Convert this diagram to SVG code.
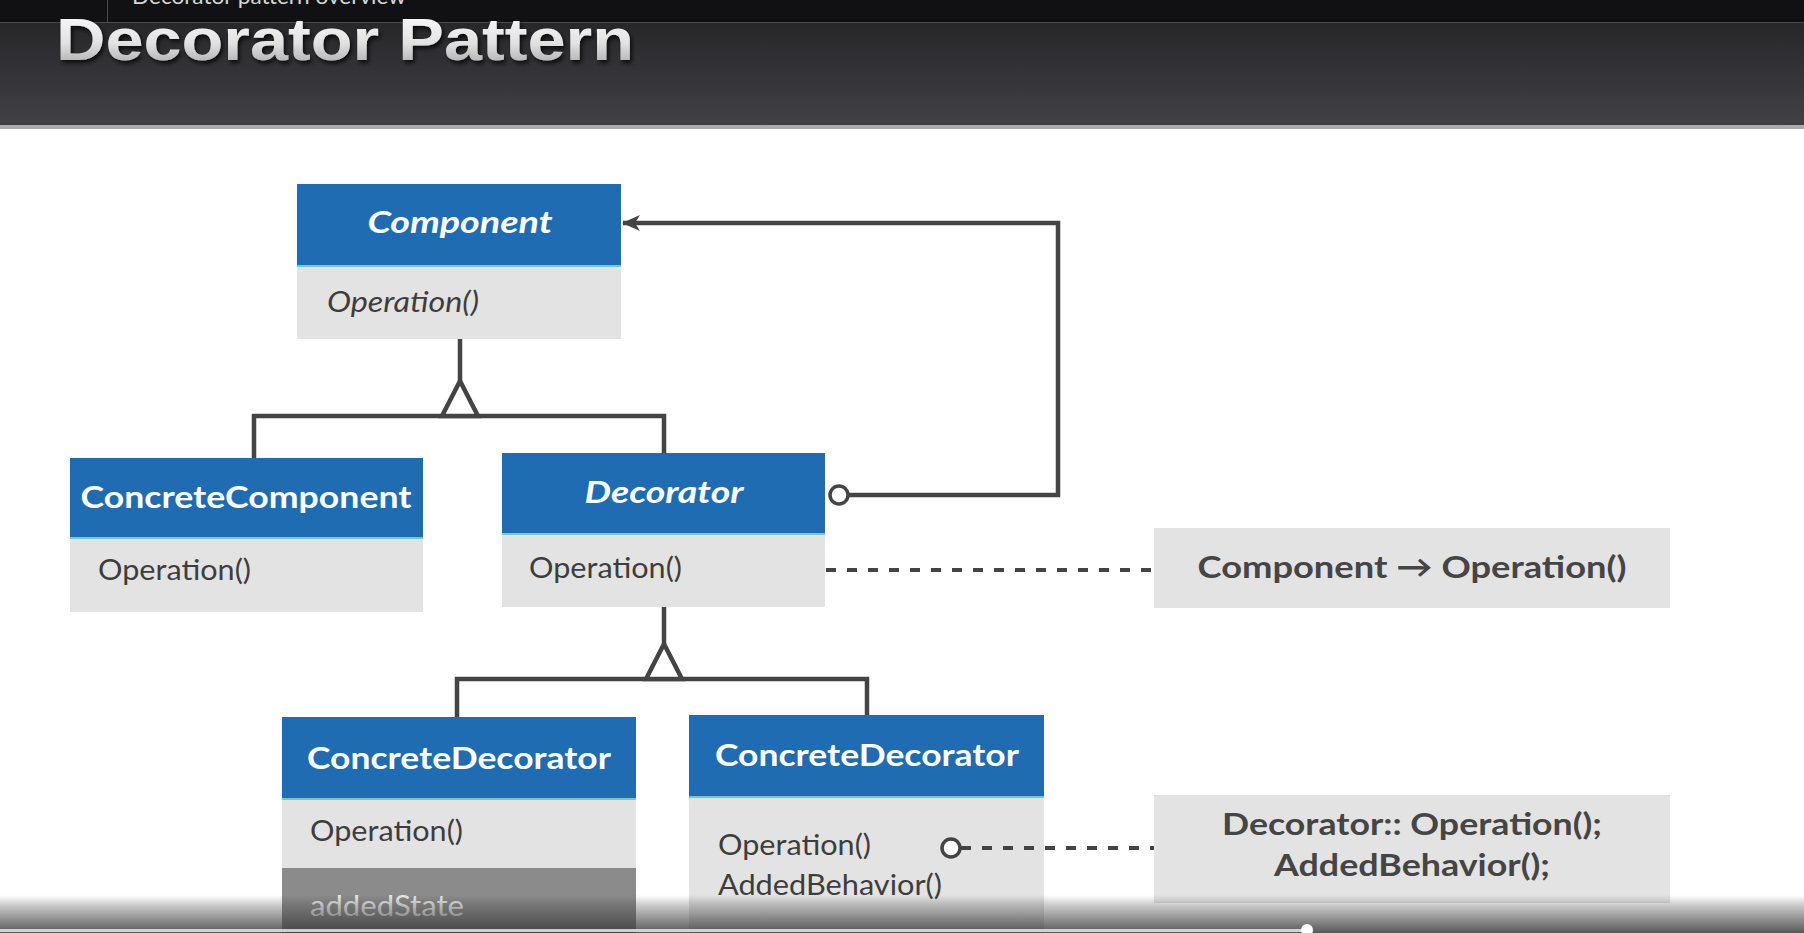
<svg xmlns="http://www.w3.org/2000/svg" width="1804" height="933" viewBox="0 0 1804 933">
<defs>
<linearGradient id="band" x1="0" y1="0" x2="0" y2="1">
<stop offset="0" stop-color="#27272a"/>
<stop offset="1" stop-color="#424146"/>
</linearGradient>
<linearGradient id="titleFill" x1="0" y1="0" x2="0" y2="1">
<stop offset="0" stop-color="#ffffff"/>
<stop offset="0.55" stop-color="#e2e2e2"/>
<stop offset="1" stop-color="#9c9c9c"/>
</linearGradient>
<linearGradient id="bottomFade" x1="0" y1="0" x2="0" y2="1">
<stop offset="0" stop-color="#3a3a3a" stop-opacity="0"/>
<stop offset="0.25" stop-color="#3a3a3a" stop-opacity="0.25"/>
<stop offset="1" stop-color="#3a3a3a" stop-opacity="0.85"/>
</linearGradient>
<filter id="shadow" x="-5%" y="-20%" width="110%" height="150%">
<feDropShadow dx="2" dy="3" stdDeviation="2" flood-color="#000" flood-opacity="0.75"/>
</filter>
<marker id="arrow" viewBox="0 0 18 18" refX="17" refY="9" markerWidth="18" markerHeight="18" markerUnits="userSpaceOnUse" orient="auto">
<path d="M18,9 L0,1 L5,9 L0,17 Z" fill="#444"/>
</marker>
<style>
.hdr{fill:#1f6cb3}
.body{fill:#e3e3e3}
.dark{fill:#8b8b8b}
.sep{stroke:#6fcacb;stroke-width:2}
.ttl{font-family:Lato,'Liberation Sans',sans-serif;font-weight:700;font-size:31px;fill:#ffffff;text-anchor:middle}
.abs{font-style:italic}
.op{font-family:Lato,'Liberation Sans',sans-serif;font-size:29px;fill:#3d3d3d}
.light{fill:#ebebeb}
.ln{fill:none;stroke:#444;stroke-width:4.5}
.inh{fill:#ffffff;stroke:#444;stroke-width:4.5;stroke-linejoin:miter}
.dash{fill:none;stroke:#444;stroke-width:4;stroke-dasharray:10 11}
.ring{fill:#ffffff;stroke:#444;stroke-width:3.5}
.note{fill:#e3e3e3}
.nt{font-family:Lato,'Liberation Sans',sans-serif;font-weight:700;font-size:31px;fill:#454545;text-anchor:middle}
</style>
</defs>

<rect x="0" y="0" width="1804" height="933" fill="#ffffff"/>

<g id="header">
<rect x="0" y="0" width="1804" height="23" fill="#111113"/>
<rect x="0" y="23" width="1804" height="103" fill="url(#band)"/>
<rect x="0" y="125" width="1804" height="4" fill="#a9a9ab"/>
<line x1="0" y1="22.5" x2="1804" y2="22.5" stroke="#4a4a4e" stroke-width="1"/>
<line x1="107.5" y1="0" x2="107.5" y2="22" stroke="#4a4a4e" stroke-width="1"/>
<text x="132" y="4" font-family="Lato,'Liberation Sans',sans-serif" font-size="21" fill="#d6d6d6" textLength="274" lengthAdjust="spacingAndGlyphs">Decorator pattern overview</text>
<text x="56" y="60" font-family="'Liberation Sans',Arial,sans-serif" font-weight="700" font-size="60" fill="url(#titleFill)" filter="url(#shadow)" textLength="578" lengthAdjust="spacingAndGlyphs">Decorator Pattern</text>
</g>

<g id="component">
<rect class="hdr" x="297" y="184" width="324" height="81"/>
<rect class="body" x="297" y="265" width="324" height="74"/>
<line class="sep" x1="297" y1="266" x2="621" y2="266"/>
<text class="ttl abs" x="460" y="233" textLength="185" lengthAdjust="spacingAndGlyphs">Component</text>
<text class="op" x="327" y="312" font-style="italic" textLength="152" lengthAdjust="spacingAndGlyphs">Operation()</text>
</g>

<g id="concrete-component">
<rect class="hdr" x="70" y="458" width="353" height="79"/>
<rect class="body" x="70" y="537" width="353" height="75"/>
<line class="sep" x1="70" y1="538" x2="423" y2="538"/>
<text class="ttl" x="246" y="508" textLength="331" lengthAdjust="spacingAndGlyphs">ConcreteComponent</text>
<text class="op" x="98" y="580" textLength="153" lengthAdjust="spacingAndGlyphs">Operation()</text>
</g>

<g id="decorator">
<rect class="hdr" x="502" y="453" width="323" height="80"/>
<rect class="body" x="502" y="533" width="323" height="74"/>
<line class="sep" x1="502" y1="534" x2="825" y2="534"/>
<text class="ttl abs" x="664" y="503" textLength="159" lengthAdjust="spacingAndGlyphs">Decorator</text>
<text class="op" x="529" y="578" textLength="153" lengthAdjust="spacingAndGlyphs">Operation()</text>
</g>

<g id="concrete-decorator-a">
<rect class="hdr" x="282" y="717" width="354" height="81"/>
<rect class="body" x="282" y="798" width="354" height="70"/>
<rect class="dark" x="282" y="868" width="354" height="65"/>
<line class="sep" x1="282" y1="799" x2="636" y2="799"/>
<text class="ttl" x="459" y="769" textLength="304" lengthAdjust="spacingAndGlyphs">ConcreteDecorator</text>
<text class="op" x="310" y="841" textLength="153" lengthAdjust="spacingAndGlyphs">Operation()</text>
<text class="op light" x="310" y="916" textLength="154" lengthAdjust="spacingAndGlyphs">addedState</text>
</g>

<g id="concrete-decorator-b">
<rect class="hdr" x="689" y="715" width="355" height="81"/>
<rect class="body" x="689" y="796" width="355" height="137"/>
<line class="sep" x1="689" y1="797" x2="1044" y2="797"/>
<text class="ttl" x="867" y="766" textLength="304" lengthAdjust="spacingAndGlyphs">ConcreteDecorator</text>
<text class="op" x="718" y="855" textLength="153" lengthAdjust="spacingAndGlyphs">Operation()</text>
<text class="op" x="718" y="895" textLength="224" lengthAdjust="spacingAndGlyphs">AddedBehavior()</text>
</g>

<g id="note-component-operation">
<rect class="note" x="1154" y="528" width="516" height="80"/>
<text class="nt" x="1412" y="578" textLength="429" lengthAdjust="spacingAndGlyphs">Component → Operation()</text>
</g>

<g id="note-added-behavior">
<rect class="note" x="1154" y="795" width="516" height="108"/>
<text class="nt" x="1412" y="835" textLength="380" lengthAdjust="spacingAndGlyphs">Decorator:: Operation();</text>
<text class="nt" x="1412" y="876" textLength="276" lengthAdjust="spacingAndGlyphs">AddedBehavior();</text>
</g>

<g id="connectors">
<path class="ln" d="M460,339 V381"/>
<path class="ln" d="M254,458 V416 H664 V453"/>
<polygon class="inh" points="460,381 442,416 478,416"/>
<path class="ln" d="M664,607 V644"/>
<path class="ln" d="M457,717 V679 H867 V715"/>
<polygon class="inh" points="664,644 646,679 682,679"/>
<path class="ln" d="M848,495 H1058 V223 H623" marker-end="url(#arrow)"/>
<circle class="ring" cx="839" cy="495" r="9"/>
<path class="dash" d="M826,570 H1154"/>
<path class="dash" d="M961,848 H1154"/>
<circle class="ring" cx="951" cy="848" r="9"/>
</g>

<g id="player-bar">
<rect x="0" y="895" width="1804" height="38" fill="url(#bottomFade)"/>
<rect x="0" y="929" width="1307" height="3" fill="#e6e6e6" opacity="0.85"/>
<circle cx="1307" cy="930" r="6" fill="#ffffff"/>
</g>
</svg>
